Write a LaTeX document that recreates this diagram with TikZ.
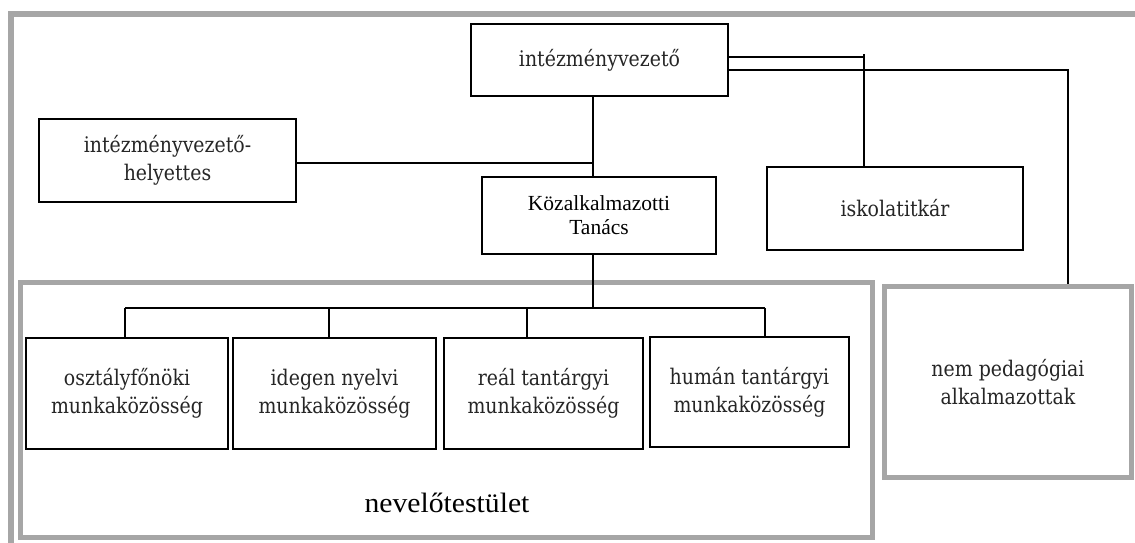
\documentclass[tikz,border=0pt]{standalone}
\usepackage{fontspec}
\setmainfont{Liberation Serif}
\newfontfamily\widefont[FakeStretch=0.88]{DejaVu Serif}
\newfontfamily\nevfont[FakeStretch=1.06]{Liberation Serif}
\definecolor{framegray}{HTML}{A6A6A6}
\definecolor{textgray}{HTML}{262626}
\begin{document}
\begin{tikzpicture}[x=1pt,y=-1pt,
  box/.style={draw=black,line width=1.2pt,fill=white,inner sep=0pt,align=center,
    text=textgray,font=\widefont\fontsize{21.5}{28}\selectfont},
  plainbox/.style={box,text=black,font=\fontsize{21.5}{24}\selectfont},
  graybox/.style={draw=framegray,line width=5pt,inner sep=0pt,align=center,
    text=textgray,font=\widefont\fontsize{21.5}{28}\selectfont},
  conn/.style={draw=black,line width=1.2pt}]
\clip (0,0) rectangle (1135,542);
\fill[white] (0,0) rectangle (1135,542);
% outer frame
\draw[framegray,line width=6pt] (10.5,13.5) rectangle (1160,570);
% nevelotestulet frame
\draw[framegray,line width=5pt] (20.5,282.5) rectangle (872.5,537.5);
\node[font=\nevfont\fontsize{28}{32}\selectfont] (nev) at (447,503) {nevelőtestület};

% nodes
\node[box,minimum width=257pt,minimum height=72pt] (iv) at (599.5,60) {intézményvezető};
\node[box,minimum width=257pt,minimum height=83pt] (ivh) at (167.5,160.5) {intézményvezető-\\helyettes};
\node[plainbox,minimum width=234pt,minimum height=77pt] (kt) at (599,215.5) {Közalkalmazotti\\Tanács};
\node[box,minimum width=256pt,minimum height=83pt] (it) at (895,208.5) {iskolatitkár};
\node[box,minimum width=202pt,minimum height=111pt] (b1) at (127,393.5) {osztályfőnöki\\munkaközösség};
\node[box,minimum width=203pt,minimum height=111pt] (b2) at (334.5,393.5) {idegen nyelvi\\munkaközösség};
\node[box,minimum width=199pt,minimum height=111pt] (b3) at (543.5,393.5) {reál tantárgyi\\munkaközösség};
\node[box,minimum width=199pt,minimum height=110pt] (b4) at (749.5,392) {humán tantárgyi\\munkaközösség};
\node[graybox,minimum width=247.5pt,minimum height=191.5pt] (np) at (1008,382) {nem pedagógiai\\alkalmazottak};

% connector coordinates
\coordinate (j) at (593,163);
\coordinate (a1) at (864,57);
\coordinate (a2) at (1068,70);
\coordinate (bus) at (593,308);
\coordinate (t1) at (125,308);
\coordinate (t2) at (329,308);
\coordinate (t3) at (527,308);
\coordinate (t4) at (765,308);

% connectors
\draw[conn] (iv.south -| j) -- (kt.north -| j);
\draw[conn] (ivh.east |- j) -- (j);
\draw[conn] (iv.east |- a1) -- (a1);
\draw[conn] ([yshift=3pt]a1) -- (it.north -| a1);
\draw[conn] (iv.east |- a2) -- (a2) -- (np.north -| a2);
\draw[conn] (kt.south -| bus) -- (bus);
\draw[conn] (t1) -- (t4);
\draw[conn] (t1) -- (b1.north -| t1);
\draw[conn] (t2) -- (b2.north -| t2);
\draw[conn] (t3) -- (b3.north -| t3);
\draw[conn] (t4) -- (b4.north -| t4);
\end{tikzpicture}
\end{document}
